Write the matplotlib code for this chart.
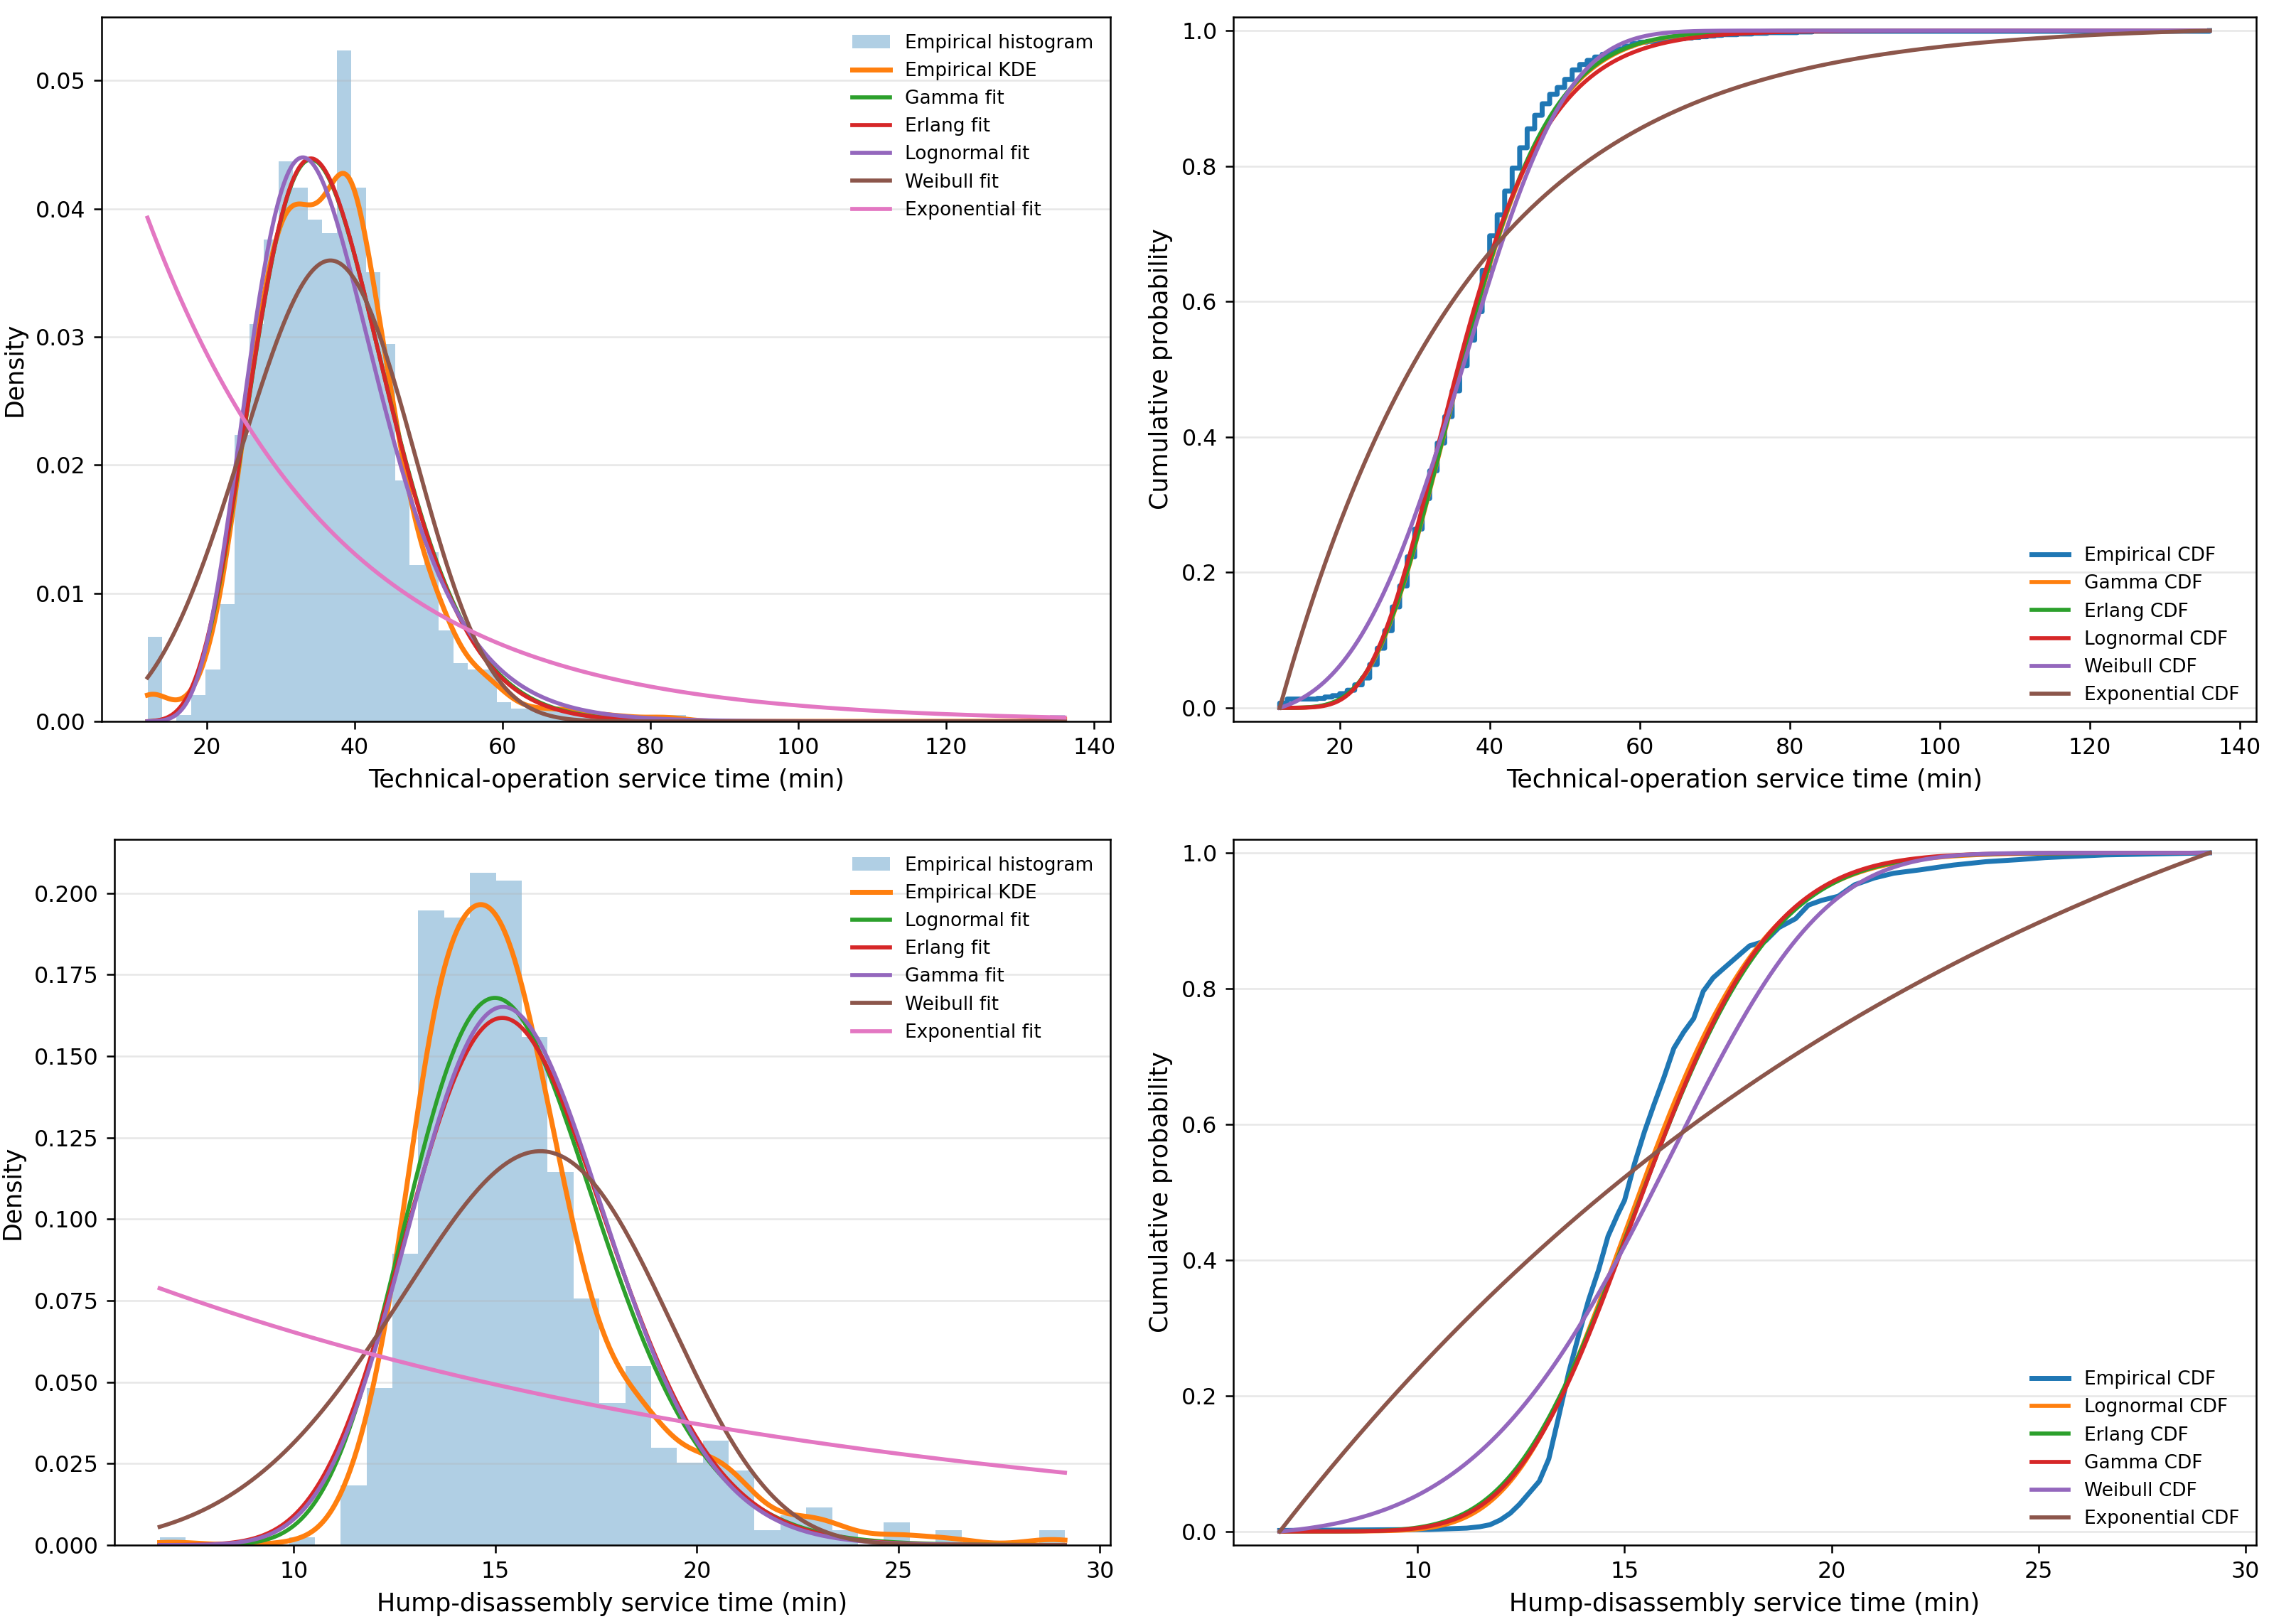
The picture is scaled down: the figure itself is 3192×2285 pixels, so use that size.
import math
import numpy as np
import matplotlib
matplotlib.use('Agg')
import matplotlib.pyplot as plt

# Technical-operation service time: recorded whole minutes and number of records
tech_minutes = [12, 13, 14, 15, 16, 17, 18, 19, 20, 21, 22, 23, 24, 25, 26, 27,
                28, 29, 30, 31, 32, 33, 34, 35, 36, 37, 38, 39, 40, 41, 42, 43,
                44, 45, 46, 47, 48, 49, 50, 51, 52, 53, 54, 55, 56, 57, 58, 59,
                60, 61, 62, 63, 64, 65, 66, 67, 68, 69, 70, 71, 73, 75, 77, 81,
                83, 136]
tech_counts = [7, 6, 0, 0, 0, 1, 2, 2, 3, 5, 8, 10, 20, 24, 26, 35,
               31, 43, 41, 45, 41, 41, 39, 38, 37, 38, 42, 61, 51, 31, 35, 34,
               30, 28, 20, 17, 14, 10, 12, 14, 8, 6, 5, 4, 4, 4, 4, 4,
               2, 1, 1, 1, 1, 1, 1, 1, 1, 1, 1, 1, 1, 1, 1, 1,
               1, 1]
tech_bins = 63

# fitted parameters (shape, loc, scale); exponential is (loc, scale)
tech_gamma = (9.45, 7.9, 3.1)
tech_erlang = (10, 7.1, 3.0)
tech_lognorm = (0.299, 4.0, 31.71)
tech_weibull = (3.75, 0.0, 39.9)
tech_expon = (12.0, 25.45)

# Hump-disassembly service time: histogram counts per bin
hump_range = (6.67, 29.13)
hump_counts = [1, 0, 0, 0, 0, 1, 0, 8, 21, 39, 85, 84, 90, 89, 68, 50, 33, 19,
               24, 13, 11, 14, 10, 2, 4, 5, 2, 0, 3, 0, 2, 0, 0, 0, 2]
hump_ecdf_x = [6.67, 10.3, 11.19, 11.5, 11.75, 12.0, 12.24, 12.46, 12.7, 12.94,
               13.17, 13.4, 13.65, 13.9, 14.13, 14.37, 14.6, 14.84, 15.0, 15.24,
               15.48, 15.71, 15.95, 16.19, 16.43, 16.67, 16.9, 17.14, 17.38, 17.7,
               18.02, 18.4, 18.73, 19.13, 19.44, 19.76, 20.16, 20.56, 21.03, 21.5,
               22.14, 22.94, 23.73, 24.52, 25.16, 26.6, 29.13]
hump_ecdf_y = [0.0015, 0.003, 0.005, 0.007, 0.010, 0.017, 0.027, 0.040, 0.057, 0.074,
               0.107, 0.167, 0.234, 0.291, 0.341, 0.385, 0.435, 0.468, 0.488, 0.542,
               0.589, 0.629, 0.669, 0.712, 0.736, 0.756, 0.796, 0.816, 0.829, 0.846,
               0.863, 0.870, 0.890, 0.903, 0.923, 0.930, 0.936, 0.953, 0.963, 0.970,
               0.975, 0.982, 0.987, 0.990, 0.993, 0.997, 1.0]

hump_lognorm = (0.1566, 0.0, 15.36)
hump_erlang = (39, 0.0, 0.3992)
hump_gamma = (40.7, 0.0, 0.3826)
hump_weibull = (5.4, 0.0, 16.74)
hump_expon = (12.6, 17.73)


def gamma_pdf(x, params):
    a, loc, scale = params
    z = np.clip((x - loc) / scale, 1e-12, None)
    logp = (a - 1) * np.log(z) - z - math.lgamma(a) - np.log(scale)
    return np.where(x > loc, np.exp(logp), 0.0)


def lognorm_pdf(x, params):
    s, loc, scale = params
    z = np.clip((x - loc) / scale, 1e-12, None)
    p = np.exp(-np.log(z) ** 2 / (2 * s ** 2)) / (s * z * scale * np.sqrt(2 * np.pi))
    return np.where(x > loc, p, 0.0)


def weibull_pdf(x, params):
    c, loc, scale = params
    z = np.clip((x - loc) / scale, 0, None)
    return c / scale * z ** (c - 1) * np.exp(-z ** c)


def expon_pdf(x, params):
    loc, scale = params
    return np.exp(-(x - loc) / scale) / scale


def kde(sample, x):
    # gaussian kernel, Scott's rule
    bw = sample.std(ddof=1) * len(sample) ** (-1 / 5)
    d = (x[:, None] - sample[None, :]) / bw
    return np.exp(-0.5 * d ** 2).sum(axis=1) / (len(sample) * bw * np.sqrt(2 * np.pi))


def grid_cdf(x, pdf):
    area = np.concatenate([[0.0], np.cumsum(np.diff(x) * (pdf[1:] + pdf[:-1]) / 2)])
    return area / area[-1]


# samples
tech_sample = np.repeat(np.array(tech_minutes, dtype=float), tech_counts)
edges = np.linspace(hump_range[0], hump_range[1], len(hump_counts) + 1)
centers = (edges[:-1] + edges[1:]) / 2
hump_sample = np.repeat(centers, hump_counts)

fig = plt.figure(figsize=(3192 / 228, 2285 / 228), dpi=228)
ax_tl = fig.add_axes([0.0448, 0.5558, 0.4446, 0.4337])
ax_tr = fig.add_axes([0.5435, 0.5558, 0.4508, 0.4337])
ax_bl = fig.add_axes([0.0504, 0.0486, 0.4389, 0.4346])
ax_br = fig.add_axes([0.5435, 0.0486, 0.4508, 0.4346])

fit_lw = 1.8

# ---- top left: technical operation densities ----
x = np.linspace(tech_sample.min(), tech_sample.max(), 500)
ax_tl.hist(tech_sample, bins=tech_bins, range=(x[0], x[-1]), density=True,
           alpha=0.35, color='C0', label='Empirical histogram')
ax_tl.plot(x, kde(tech_sample, x), color='C1', lw=2.2, label='Empirical KDE')
tech_pdfs = [('Gamma', gamma_pdf(x, tech_gamma)),
             ('Erlang', gamma_pdf(x, tech_erlang)),
             ('Lognormal', lognorm_pdf(x, tech_lognorm)),
             ('Weibull', weibull_pdf(x, tech_weibull)),
             ('Exponential', expon_pdf(x, tech_expon))]
for i, (name, pdf) in enumerate(tech_pdfs):
    ax_tl.plot(x, pdf, color='C%d' % (i + 2), lw=fit_lw, label=name + ' fit')
ax_tl.set_xlabel('Technical-operation service time (min)', fontsize=11)
ax_tl.set_ylabel('Density', fontsize=11)
ax_tl.grid(axis='y', alpha=0.3)
ax_tl.legend(frameon=False, fontsize='small', loc='upper right')

# ---- top right: technical operation CDFs ----
ecdf_x = np.sort(tech_sample)
ecdf_y = np.arange(1, len(ecdf_x) + 1) / len(ecdf_x)
ax_tr.step(ecdf_x, ecdf_y, where='post', color='C0', lw=2.2, label='Empirical CDF')
for i, (name, pdf) in enumerate(tech_pdfs):
    ax_tr.plot(x, grid_cdf(x, pdf), color='C%d' % (i + 1), lw=fit_lw, label=name + ' CDF')
ax_tr.set_xlabel('Technical-operation service time (min)', fontsize=11)
ax_tr.set_ylabel('Cumulative probability', fontsize=11)
ax_tr.set_ylim(-0.02, 1.02)
ax_tr.grid(axis='y', alpha=0.3)
ax_tr.legend(frameon=False, fontsize='small', loc='lower right')

# ---- bottom left: hump disassembly densities ----
xh = np.linspace(hump_range[0], hump_range[1], 500)
ax_bl.hist(hump_sample, bins=len(hump_counts), range=hump_range, density=True,
           alpha=0.35, color='C0', label='Empirical histogram')
ax_bl.plot(xh, kde(hump_sample, xh), color='C1', lw=2.2, label='Empirical KDE')
hump_pdfs = [('Lognormal', lognorm_pdf(xh, hump_lognorm)),
             ('Erlang', gamma_pdf(xh, hump_erlang)),
             ('Gamma', gamma_pdf(xh, hump_gamma)),
             ('Weibull', weibull_pdf(xh, hump_weibull)),
             ('Exponential', expon_pdf(xh, hump_expon))]
for i, (name, pdf) in enumerate(hump_pdfs):
    ax_bl.plot(xh, pdf, color='C%d' % (i + 2), lw=fit_lw, label=name + ' fit')
ax_bl.set_xlabel('Hump-disassembly service time (min)', fontsize=11)
ax_bl.set_ylabel('Density', fontsize=11)
ax_bl.grid(axis='y', alpha=0.3)
ax_bl.legend(frameon=False, fontsize='small', loc='upper right')

# ---- bottom right: hump disassembly CDFs ----
ax_br.plot(hump_ecdf_x, hump_ecdf_y, color='C0', lw=2.2, label='Empirical CDF')
for i, (name, pdf) in enumerate(hump_pdfs):
    ax_br.plot(xh, grid_cdf(xh, pdf), color='C%d' % (i + 1), lw=fit_lw, label=name + ' CDF')
ax_br.set_xlabel('Hump-disassembly service time (min)', fontsize=11)
ax_br.set_ylabel('Cumulative probability', fontsize=11)
ax_br.set_ylim(-0.02, 1.02)
ax_br.grid(axis='y', alpha=0.3)
ax_br.legend(frameon=False, fontsize='small', loc='lower right')

fig.savefig('out.png', dpi=228)
